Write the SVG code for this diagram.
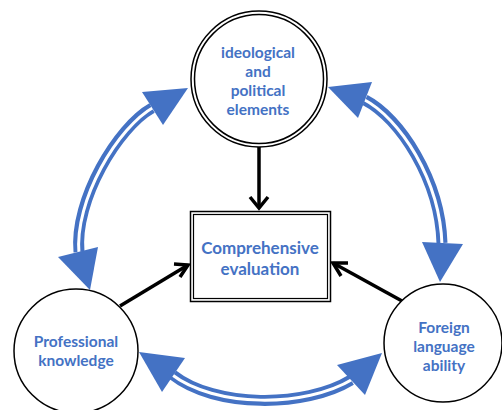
<svg xmlns="http://www.w3.org/2000/svg" width="502" height="410" viewBox="0 0 502 410">
<style>
.lbl{font-family:Lato,"Liberation Sans",sans-serif;font-weight:bold;fill:#4472C4;text-anchor:middle}
.ring{fill:#fff;stroke:#000;stroke-width:1.5}
.blue{fill:none;stroke:#4472C4;stroke-width:11}
.gap{fill:none;stroke:#fff;stroke-width:3}
.head{fill:#4472C4}
.blk{fill:none;stroke:#000;stroke-width:3.5}
.chev{fill:none;stroke:#000;stroke-width:3.5;stroke-linecap:butt;stroke-linejoin:miter}
</style>
<rect width="502" height="410" fill="#fff"/>
<g id="connectors">
  <line class="blk" x1="259" y1="147" x2="259" y2="208"/>
  <polyline class="chev" points="250,197 259,208 268,197"/>
  <line class="blk" x1="120" y1="306" x2="188" y2="265"/>
  <polyline class="chev" points="174,264 188,265 180,277"/>
  <line class="blk" x1="402" y1="301" x2="333" y2="263"/>
  <polyline class="chev" points="341,276 333,263 348,263"/>
  <path class="blue" d="M152,108 C118,127 74,200 79,252"/>
  <path class="gap" d="M154,107 C118,127 74,200 79,254"/>
  <polygon class="head" points="188,88 142,92 163,125"/>
  <polygon class="head" points="90,290 58,257 98,247"/>
  <path class="blue" d="M365,100 C400,118 440,180 442,243"/>
  <path class="gap" d="M363,99 C400,118 440,180 442,245"/>
  <polygon class="head" points="328,87 372,82 358,118"/>
  <polygon class="head" points="440,282 422,242 463,244"/>
  <path class="blue" d="M173,375 C215,408 305,408 351,380"/>
  <path class="gap" d="M171,374 C215,408 305,408 353,379"/>
  <polygon class="head" points="139,352 185,358 162,392"/>
  <polygon class="head" points="382,353 337,365 365,395"/>
</g>
<g id="node-ideological">
  <circle class="ring" cx="259" cy="79" r="68"/>
  <circle class="ring" cx="259" cy="79" r="64.5"/>
  <text class="lbl" font-size="15.5" x="258" y="58">ideological</text>
  <text class="lbl" font-size="15.5" x="258" y="77">and</text>
  <text class="lbl" font-size="15.5" x="258" y="96">political</text>
  <text class="lbl" font-size="15.5" x="258" y="115">elements</text>
</g>
<g id="node-comprehensive">
  <rect x="190.5" y="211.5" width="140" height="90" fill="#fff" stroke="#000" stroke-width="1.5"/>
  <rect x="193.5" y="214.5" width="134" height="84" fill="none" stroke="#000" stroke-width="1.2"/>
  <text class="lbl" font-size="17" x="260" y="254">Comprehensive</text>
  <text class="lbl" font-size="17" x="260" y="275">evaluation</text>
</g>
<g id="node-professional">
  <circle class="ring" cx="76" cy="351" r="62"/>
  <text class="lbl" font-size="15.5" x="76" y="347">Professional</text>
  <text class="lbl" font-size="15.5" x="76" y="366">knowledge</text>
</g>
<g id="node-foreign">
  <circle class="ring" cx="443" cy="343" r="59"/>
  <text class="lbl" font-size="15.5" x="444" y="333">Foreign</text>
  <text class="lbl" font-size="15.5" x="444" y="352">language</text>
  <text class="lbl" font-size="15.5" x="444" y="371">ability</text>
</g>
</svg>
